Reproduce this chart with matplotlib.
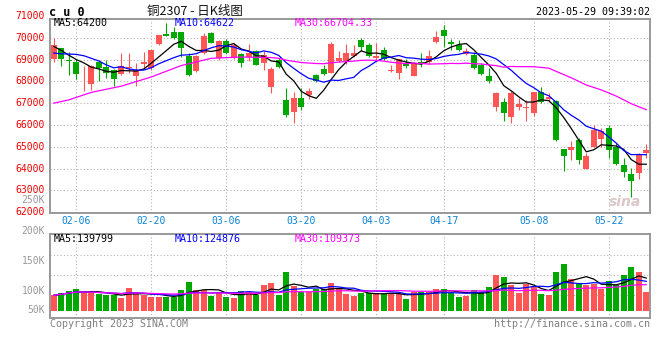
import matplotlib
matplotlib.use("Agg")
import matplotlib.pyplot as plt
import numpy as np
import pandas as pd

# daily candles, 02-01 .. 05-29 (80 trading days)
open_px = [69015, 69515, 68970, 68909, 68273, 67879, 68909, 68636, 68530, 68333,
           68591, 68258, 68818, 68606, 69697, 70152, 70273, 70273, 69182, 68455,
           69288, 70197, 69061, 69848, 69061, 69242, 69136, 69370, 68845, 67720,
           68965, 67165, 66600, 67240, 67360, 68290, 68560, 68365, 68920, 68920,
           69145, 69895, 69670, 69070, 69445, 68470, 68365, 68815, 68245, 68890,
           68890, 69820, 70345, 69800, 69685, 69275, 69230, 68740, 68240, 66810,
           67040, 66355, 66810, 66800, 66540, 67525, 67180, 67080, 64890, 64860,
           65320, 63990, 65015, 65370, 65860, 65015, 64175, 63750, 63790, 64710]
high_px = [70000, 69545, 69364, 69015, 68682, 68758, 68985, 68970, 68576, 69288,
           69288, 68833, 69364, 69439, 70121, 70652, 70500, 70273, 69288, 69212,
           70197, 70273, 69894, 69939, 69742, 69288, 69697, 69450, 69370, 68665,
           69070, 67690, 67500, 67690, 67690, 68335, 68740, 69790, 69370, 69715,
           69670, 69970, 69760, 69760, 69565, 68740, 69040, 69010, 68890, 69310,
           69445, 70285, 70570, 69950, 69910, 69530, 69350, 68860, 68620, 67525,
           67250, 67555, 67250, 67145, 67525, 67755, 67480, 67160, 64890, 65245,
           65400, 64710, 66010, 65860, 66010, 65170, 64510, 64020, 64710, 65120]
low_px = [68909, 68682, 68303, 68121, 67576, 67621, 68000, 68152, 67773, 68273,
          68379, 67803, 68606, 68530, 69667, 70076, 69939, 69136, 68227, 68424,
          69242, 69742, 68985, 69242, 69015, 68636, 68939, 68740, 68515, 67465,
          68590, 66350, 66100, 66700, 67195, 67960, 68290, 68365, 68890, 68815,
          69115, 69370, 69100, 68965, 68965, 68440, 68110, 68620, 68245, 68665,
          68815, 69745, 69565, 69440, 69380, 69230, 68560, 68285, 67905, 66645,
          66190, 66080, 66690, 66190, 66430, 66995, 67040, 65245, 63900, 64405,
          64205, 63990, 64970, 64970, 64480, 64175, 63600, 62720, 63530, 64510]
close_px = [69667, 69015, 68924, 68333, 68303, 68682, 68606, 68379, 68121, 68682,
            68636, 68530, 68864, 69439, 70121, 70076, 70000, 69545, 68273, 69182,
            70076, 69773, 69848, 69288, 69667, 68833, 69288, 68770, 69220, 68560,
            68635, 66450, 67240, 66830, 67570, 68020, 68320, 69715, 69070, 69310,
            69295, 69595, 69145, 69145, 69040, 68515, 69010, 68710, 68860, 68845,
            69160, 70045, 70090, 69720, 69425, 69380, 68620, 68330, 68030, 67480,
            66540, 67450, 66965, 66810, 67500, 67040, 67270, 65320, 64590, 64985,
            64375, 64590, 65780, 65735, 64865, 64205, 63840, 63440, 64665, 64865]
volume_k = [66, 76, 86, 93, 82, 75, 72, 66, 66, 56,
            98, 78, 69, 60, 60, 60, 59, 89, 125, 89,
            89, 63, 82, 60, 56, 85, 82, 66, 111, 121,
            68, 168, 106, 82, 82, 92, 92, 121, 92, 72,
            63, 78, 75, 78, 72, 72, 72, 50, 82, 82,
            82, 93, 93, 78, 60, 63, 89, 82, 103, 154,
            147, 111, 75, 114, 106, 72, 68, 168, 203, 137,
            115, 111, 115, 93, 128, 111, 154, 188, 168, 82]

# moving-average lines before their window is full
ma5_head = [69600, 69420, 69200, 69000]
ma10_head = [69295, 69265, 69250, 69235, 69175, 69055, 68935, 68755, 68620]
ma30_head_idx = [0, 2, 5, 9, 13, 17, 21, 25]
ma30_head = [67000, 67150, 67495, 67780, 68200, 68725, 69055, 69115]

tick_idx = [3, 13, 23, 33, 43, 52, 64, 74]
tick_labels = ["02-06", "02-20", "03-06", "03-20", "04-03", "04-17", "05-08", "05-22"]
price_ticks = [62000, 63000, 64000, 65000, 66000, 67000, 68000, 69000, 70000, 71000]
vol_tick_labels = ["250K", "200K", "150K", "100K", "50K"]
vol_tick_py = [200, 230.7, 261, 290.7, 310]

RED, GREEN = "#ff5555", "#00a800"
GRID = "#b4b4b4"
FRAME = "#999999"
MONO = "DejaVu Sans Mono"
W, H = 660, 360

plt.rcParams["font.family"] = [MONO, "Noto Sans CJK SC"]


def fx(px):
    return px / W


def fy(py):
    return 1 - py / H


n = len(close_px)
x = np.arange(n)
o, hi, lo, c = (np.array(a, dtype=float) for a in (open_px, high_px, low_px, close_px))
colors = np.where(c >= o, RED, GREEN)

closes = pd.Series(c)
ma5 = closes.rolling(5).mean()
ma10 = closes.rolling(10).mean()
ma30 = closes.rolling(30).mean()

vol = pd.Series(np.array(volume_k, dtype=float))
vma5 = vol.rolling(5, min_periods=1).mean()
vma10 = vol.rolling(10, min_periods=1).mean()
vma30 = vol.rolling(30, min_periods=1).mean()

fig = plt.figure(figsize=(6.6, 3.6), dpi=100)
fig.patch.set_facecolor("white")

# ---- price panel
ax = fig.add_axes([fx(50), fy(213), fx(600), 194 / H])
ax.set_xlim(-0.5, n - 0.5)
ax.set_ylim(61968, 70857)

ax.vlines(x, lo, hi, colors=colors, lw=0.8, zorder=3)
body = np.maximum(np.abs(c - o), 40)
ax.bar(x, body, bottom=np.minimum(o, c), width=0.76, color=colors, linewidth=0, zorder=3)

ax.plot(list(range(len(ma5_head))) + list(range(4, n)), ma5_head + list(ma5[4:]),
        color="black", lw=0.9, zorder=4)
ax.plot(list(range(len(ma10_head))) + list(range(9, n)), ma10_head + list(ma10[9:]),
        color="#0000ff", lw=0.9, zorder=4)
ax.plot(ma30_head_idx + list(range(29, n)), ma30_head + list(ma30[29:]),
        color="#ff00ff", lw=0.9, zorder=4)

ax.set_yticks(price_ticks[:-1])
ax.set_yticklabels([])
ax.set_xticks(tick_idx)
ax.set_xticklabels(tick_labels, color="#0a84d6", fontsize=7)
ax.tick_params(length=0, pad=2.5)
ax.grid(True, color=GRID, linestyle=(0, (1, 2)), linewidth=0.8)
ax.set_axisbelow(True)
for p in price_ticks:
    ax.text(-0.009, p, str(p), transform=ax.get_yaxis_transform(), ha="right",
            va="center", color="#ee0000", fontsize=7, clip_on=False)
for s in ax.spines.values():
    s.set_color(FRAME)
    s.set_linewidth(1.4)

ax.text(0.985, 0.02, "sina", transform=ax.transAxes, ha="right", va="bottom",
        fontsize=10, style="italic", weight="bold", color="#dcc8c8",
        family="DejaVu Sans", zorder=2)

# ---- volume panel
axv = fig.add_axes([fx(50), fy(318), fx(600), 84 / H])
axv.set_xlim(-0.5, n - 0.5)
axv.set_ylim(-31.5, 330.6)
axv.bar(x, vol, width=0.76, color=colors, linewidth=0, zorder=3)
axv.plot(x, vma5, color="black", lw=0.9, zorder=4)
axv.plot(x, vma10, color="#0000ff", lw=0.9, zorder=4)
axv.plot(x, vma30, color="#ff00ff", lw=0.9, zorder=4)
axv.set_xticks(tick_idx)
axv.set_xticklabels([])
axv.set_yticks([67.7, 153.9, 240.1])
axv.set_yticklabels([])
axv.tick_params(length=0)
axv.grid(True, color=GRID, linestyle=(0, (1, 2)), linewidth=0.8)
axv.set_axisbelow(True)
for s in axv.spines.values():
    s.set_color(FRAME)
    s.set_linewidth(1.4)

for lab, py in zip(vol_tick_labels, vol_tick_py):
    fig.text(fx(45), fy(py), lab, ha="right", va="center", color="#999999", fontsize=7)

# ---- header and legends
fig.text(fx(49), fy(12), "c u 0", ha="left", va="center", fontsize=8.5,
         weight="bold", color="black")
fig.text(fx(195), fy(11), "铜2307 - 日K线图", ha="center", va="center", fontsize=9,
         family=["Noto Sans CJK SC", "DejaVu Sans"], color="#111111")
fig.text(fx(650), fy(12), "2023-05-29 09:39:02", ha="right", va="center",
         fontsize=7.2, color="black")

fig.text(fx(54), fy(23.5), "MA5:64200", ha="left", va="center", fontsize=7.2, color="black")
fig.text(fx(175), fy(23.5), "MA10:64622", ha="left", va="center", fontsize=7.2, color="#0000ff")
fig.text(fx(295), fy(23.5), "MA30:66704.33", ha="left", va="center", fontsize=7.2, color="#ff00ff")

fig.text(fx(54), fy(238.5), "MA5:139799", ha="left", va="center", fontsize=7.2, color="black")
fig.text(fx(175), fy(238.5), "MA10:124876", ha="left", va="center", fontsize=7.2, color="#0000ff")
fig.text(fx(295), fy(238.5), "MA30:109373", ha="left", va="center", fontsize=7.2, color="#ff00ff")

fig.text(fx(50), fy(324), "Copyright 2023 SINA.COM", ha="left", va="center",
         fontsize=7.2, color="#808080")
fig.text(fx(650), fy(324), "http://finance.sina.com.cn", ha="right", va="center",
         fontsize=7.2, color="#808080")

fig.savefig("out.png", dpi=100)
